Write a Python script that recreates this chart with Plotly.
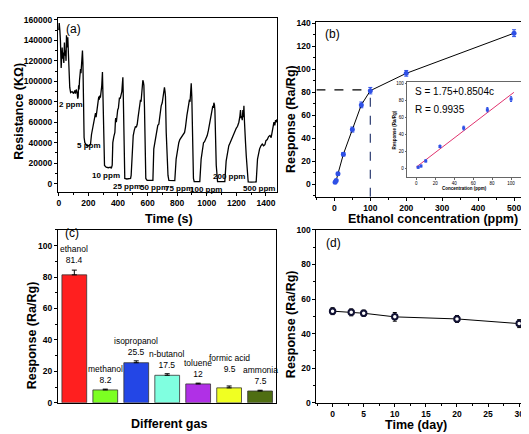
import plotly.graph_objects as go

# ---------------- data ----------------
# (a) resistance transient
time_s = [0, 3, 7, 11, 16, 20, 23, 26, 29, 34, 38, 42, 45, 49, 52, 56, 61, 65, 68, 74, 80, 90, 100, 108, 113, 118, 124, 128, 131, 134, 137, 140, 144, 147, 150, 153, 157, 160,
          163, 165, 168, 171, 176, 180, 190, 203, 214, 221, 230, 237, 242, 248, 252, 257, 261, 265, 270, 274, 277, 281, 284, 290, 295, 298, 300, 305, 309, 320, 335, 349, 355, 361,
          365, 372, 379, 383, 385, 389, 392, 398, 403, 407, 410, 415, 421, 426, 430, 433, 436, 440, 446, 460, 475, 485, 489,
          494, 498, 503, 510, 518, 524, 530, 536, 541, 546, 552, 556, 559, 564, 568, 572, 575, 579, 584, 588, 597, 615, 636,
          642, 648, 654, 660, 669, 676, 683, 687, 692, 699, 704, 708, 714, 718, 721, 726, 732, 738, 744, 760, 784,
          793, 799, 804, 811, 818, 826, 834, 842, 850, 856, 861, 866, 872, 878, 883, 887, 891, 895, 899, 904, 910, 915, 930, 953,
          962, 971, 978, 985, 994, 1003, 1011, 1019, 1025, 1030, 1036, 1041, 1045, 1048, 1052, 1055, 1060, 1064, 1073, 1090, 1122,
          1131, 1140, 1149, 1158, 1167, 1175, 1183, 1190, 1199, 1208, 1217, 1224, 1228, 1232, 1235, 1240, 1244, 1248, 1251, 1255, 1258, 1262, 1267, 1273, 1280, 1300, 1334,
          1343, 1350, 1357, 1366, 1375, 1384, 1393, 1400, 1409, 1418, 1427, 1435, 1442, 1448, 1454, 1460, 1465, 1469, 1476]
resistance = [150000, 157000, 150000, 140000, 113000, 128000, 133000, 122000, 128000, 118000, 138000, 125000, 130000, 120000, 145000, 133000, 143000, 127000, 108000, 94000, 89000, 90000, 88000, 91000, 88000, 92000, 89000, 83000, 85000, 96000, 92000, 101000, 105000, 112000, 108000, 120000, 125000, 130000,
              118000, 75000, 55000, 45000, 40000, 38600, 37000, 37000, 38000, 48000, 54000, 60000, 64000, 69000, 65000, 72000, 76000, 83000, 85000, 82000, 86000, 84000, 88000, 95000, 109000, 90000, 50000, 22000, 17700, 16000, 15500, 16000, 15000, 18000,
              40000, 46000, 50000, 62000, 64000, 60000, 65000, 72000, 74000, 80000, 84000, 83000, 87000, 90000, 98000, 104000, 85000, 30000, 5000, 4500, 4500, 5000, 8000,
              27000, 38000, 47000, 52000, 56000, 55000, 58000, 65000, 72000, 78000, 82000, 80000, 84000, 90000, 101000, 99000, 96000, 75000, 25000, 5000, 3200, 3000, 3200,
              34000, 40000, 45000, 50000, 57000, 58000, 67000, 66000, 76000, 79000, 85000, 88000, 94000, 90000, 85000, 50000, 21000, 8000, 3200, 3000, 3000,
              24000, 30000, 34000, 40000, 43000, 45000, 46000, 48000, 50000, 55000, 63000, 67000, 72000, 76000, 82000, 80000, 88000, 98000, 85000, 20000, 5000, 2000, 2000, 2000,
              24000, 37000, 40000, 41000, 44000, 47000, 52000, 60000, 63000, 69000, 72000, 76000, 74000, 79000, 77000, 72000, 40000, 18000, 2000, 1800, 2000,
              22000, 30000, 37000, 40000, 43000, 47000, 50000, 52000, 54000, 56000, 60000, 66000, 72000, 64000, 66000, 62000, 72000, 65000, 76000, 60000, 55000, 40000, 27000, 10000, 1600, 1500, 1600,
              24000, 30000, 34000, 37000, 38600, 37000, 38000, 42000, 43000, 46000, 47000, 45000, 50000, 55000, 60000, 57000, 62000, 60000, 63000]
ppm_labels = ["2 ppm", "5 ppm", "10 ppm", "25 ppm", "50 ppm", "75 ppm", "100 ppm", "200 ppm", "500 ppm"]
ppm_label_t = [81, 206, 321, 463, 642, 815, 994, 1153, 1356]
ppm_label_r = [77000, 37700, 7700, -2900, -3900, -4800, -5800, 6800, -4800]

# (b) response vs concentration
conc = [2, 5, 10, 25, 50, 75, 100, 200, 500]
resp = [1.5, 3.0, 9.0, 26.0, 47.5, 69.0, 81.4, 96.5, 131.5]
resp_err = [1.0, 1.0, 1.2, 1.5, 2.2, 2.5, 2.8, 2.5, 3.0]
fit_a, fit_b = 1.75, 0.8504
fit_c = [0, 103]

# (c) selectivity
gases = ["ethanol", "methanol", "isopropanol", "n-butanol", "toluene", "formic acid", "ammonia"]
gas_resp = [81.4, 8.2, 25.5, 17.5, 12, 9.5, 7.5]
gas_err = [3.0, 0.5, 1.2, 1.0, 0.5, 1.2, 0.5]
gas_colors = ["#FF1F1F", "#7CFF22", "#2346E6", "#80FFE0", "#B030E6", "#F0FF22", "#4F6E12"]

# (d) stability
days = [0, 3, 5, 10, 20, 30]
stab = [53.0, 52.3, 51.8, 49.7, 48.5, 45.8]
stab_err = [2.0, 2.0, 1.8, 2.5, 2.0, 2.3]

# ---------------- figure ----------------
FONT = "Liberation Sans, Arial, sans-serif"
W, H = 529, 434
fig = go.Figure()

fig.add_trace(go.Scatter(x=time_s, y=resistance, mode="lines",
                         line=dict(color="black", width=1.3), xaxis="x", yaxis="y"))

fig.add_trace(go.Scatter(x=conc, y=resp, mode="lines+markers",
                         line=dict(color="black", width=1),
                         marker=dict(color="#2E50E6", size=5, symbol="circle"),
                         error_y=dict(type="data", array=resp_err, color="#2E50E6", thickness=1, width=2),
                         xaxis="x2", yaxis="y2"))

fig.add_trace(go.Scatter(x=fit_c, y=[fit_a + fit_b * c for c in fit_c], mode="lines",
                         line=dict(color="#E0336E", width=1), xaxis="x3", yaxis="y3"))
fig.add_trace(go.Scatter(x=conc[:7], y=resp[:7], mode="markers",
                         marker=dict(color="#2E50E6", size=3, symbol="square"),
                         error_y=dict(type="data", array=resp_err[:7], color="#2E50E6", thickness=1, width=1),
                         xaxis="x3", yaxis="y3"))

fig.add_trace(go.Bar(x=list(range(len(gases))), y=gas_resp, width=0.8,
                     marker=dict(color=gas_colors, line=dict(color="#333", width=0.8)),
                     error_y=dict(type="data", symmetric=False, array=gas_err, arrayminus=[0] * len(gases),
                                  color="black", thickness=1, width=2.5),
                     xaxis="x4", yaxis="y4"))

fig.add_trace(go.Scatter(x=days, y=stab, mode="lines+markers",
                         line=dict(color="black", width=1),
                         marker=dict(color="white", size=5.5, symbol="circle",
                                     line=dict(color="#111133", width=2)),
                         error_y=dict(type="data", array=stab_err, color="black", thickness=1, width=2),
                         xaxis="x5", yaxis="y5"))

tickfont = dict(family=FONT, size=8.5, color="black", weight="bold")
common = dict(showline=True, linecolor="black", linewidth=1, mirror=True, ticks="outside",
              ticklen=3, tickwidth=1, tickcolor="black", showgrid=False, zeroline=False,
              tickfont=tickfont, tickformat="d", exponentformat="none")
minor_t = dict(ticklen=2, ticks="outside", tickcolor="black")


def px2x(p):
    return p / W


def px2y(p):
    return 1 - p / H


inset_common = dict(showline=True, linecolor="#666", linewidth=1, mirror=True, ticks="outside",
                    ticklen=1.5, tickcolor="#666", showgrid=False, zeroline=False, dtick=20,
                    tickfont=dict(family=FONT, size=4.5, color="black"))

fig.update_layout(
    width=W, height=H, autosize=False, showlegend=False,
    margin=dict(l=0, r=0, t=0, b=0), paper_bgcolor="white", plot_bgcolor="white",
    xaxis=dict(domain=[px2x(49), px2x(269)], range=[-6, 1478], dtick=200,
               minor=dict(dtick=100, **minor_t), anchor="y", **common),
    yaxis=dict(domain=[px2y(183), px2y(5)], range=[-8000, 162000], dtick=20000,
               minor=dict(dtick=10000, **minor_t), anchor="x", **common),
    xaxis2=dict(domain=[px2x(308), px2x(524)], range=[-50, 550], dtick=100,
                minor=dict(dtick=50, **minor_t), anchor="y2", **common),
    yaxis2=dict(domain=[px2y(188), px2y(9.5)], range=[-11, 141], dtick=20,
                minor=dict(dtick=10, **minor_t), anchor="x2", **common),
    xaxis4=dict(domain=[px2x(49), px2x(268)], range=[-0.53, 6.53], showticklabels=False,
                showline=True, linecolor="black", linewidth=1, mirror=True, ticks="",
                showgrid=False, zeroline=False, anchor="y4"),
    yaxis4=dict(domain=[px2y(399), px2y(222)], range=[0, 110], dtick=20,
                minor=dict(dtick=10, **minor_t), anchor="x4", **common),
    xaxis5=dict(domain=[px2x(308), px2x(523)], range=[-2.6, 31.9], dtick=5,
                minor=dict(dtick=2.5, **minor_t), anchor="y5", **common),
    yaxis5=dict(domain=[px2y(399), px2y(222)], range=[0, 100], dtick=20,
                minor=dict(dtick=10, **minor_t), anchor="x5", **common),
    xaxis3=dict(domain=[px2x(399), px2x(513)], range=[-9.5, 110.5], anchor="y3", **inset_common),
    yaxis3=dict(domain=[px2y(168), px2y(71)], range=[-10, 101], anchor="x3", **inset_common),
)

# dashed guide lines at 100 ppm
fig.add_shape(type="line", xref="x2", yref="y2", x0=-50, x1=conc[6], y0=82, y1=82,
              line=dict(color="black", width=1.2, dash="dash"))
fig.add_shape(type="line", xref="x2", yref="y2", x0=conc[6], x1=conc[6], y0=-11, y1=82,
              line=dict(color="#2A3A70", width=1.2, dash="dash"))
# white inset background
fig.add_shape(type="rect", xref="paper", yref="paper", x0=px2x(399), x1=px2x(513),
              y0=px2y(168), y1=px2y(71), fillcolor="white", line=dict(width=0), layer="below")

ann = []
title_font = dict(family=FONT, size=12.5, color="black", weight="bold")


def title(text, x, y, angle=0, font=title_font):
    ann.append(dict(text=text, x=px2x(x), y=px2y(y), xref="paper", yref="paper", showarrow=False,
                    textangle=angle, font=font, xanchor="center", yanchor="middle"))


title("Resistance (KΩ)", 10, 100, -90)
title("Time (s)", 160, 211)
title("Response (Ra/Rg)", 282, 108, -90)
title("Ethanol concentration (ppm)", 425, 211)
title("Response (Ra/Rg)", 23, 330, -90)
title("Different gas", 160, 421)
title("Response (Ra/Rg)", 282, 318, -90)
title("Time (day)", 408, 422)

panel_font = dict(family=FONT, size=12, color="black")
title("(a)", 64.5, 16, font=panel_font)
title("(b)", 324.5, 21, font=panel_font)
title("(c)", 63.5, 225.5, font=panel_font)
title("(d)", 325, 235, font=panel_font)

small_bold = dict(family=FONT, size=4.5, color="black", weight="bold")
title("Response (Ra/Rg)", 386, 120, -90, font=small_bold)
title("Concentration (ppm)", 456, 179.5, font=small_bold)

eq_font = dict(family=FONT, size=10, color="black")
ann.append(dict(text="S = 1.75+0.8504c", x=px2x(405), y=px2y(80.7), xref="paper", yref="paper",
                showarrow=False, font=eq_font, xanchor="left", yanchor="middle"))
ann.append(dict(text="R = 0.9935", x=px2x(405), y=px2y(98.3), xref="paper", yref="paper",
                showarrow=False, font=eq_font, xanchor="left", yanchor="middle"))

for lab, t, r in zip(ppm_labels, ppm_label_t, ppm_label_r):
    ann.append(dict(text=lab, x=t, y=r, xref="x", yref="y", showarrow=False,
                    font=dict(family=FONT, size=8, color="black", weight="bold"),
                    xanchor="center", yanchor="middle"))

bar_font = dict(family=FONT, size=8.5, color="black")
extra_shift = {"formic acid": 8, "ethanol": 1}
for i, (g, v, e) in enumerate(zip(gases, gas_resp, gas_err)):
    ann.append(dict(text=f"{g}<br>{v:g}", x=i, y=v + e, xref="x4", yref="y4", showarrow=False,
                    font=bar_font, xanchor="center", yanchor="bottom",
                    yshift=2 + extra_shift.get(g, 0)))

fig.update_layout(annotations=ann)
fig.write_html("out.html")
